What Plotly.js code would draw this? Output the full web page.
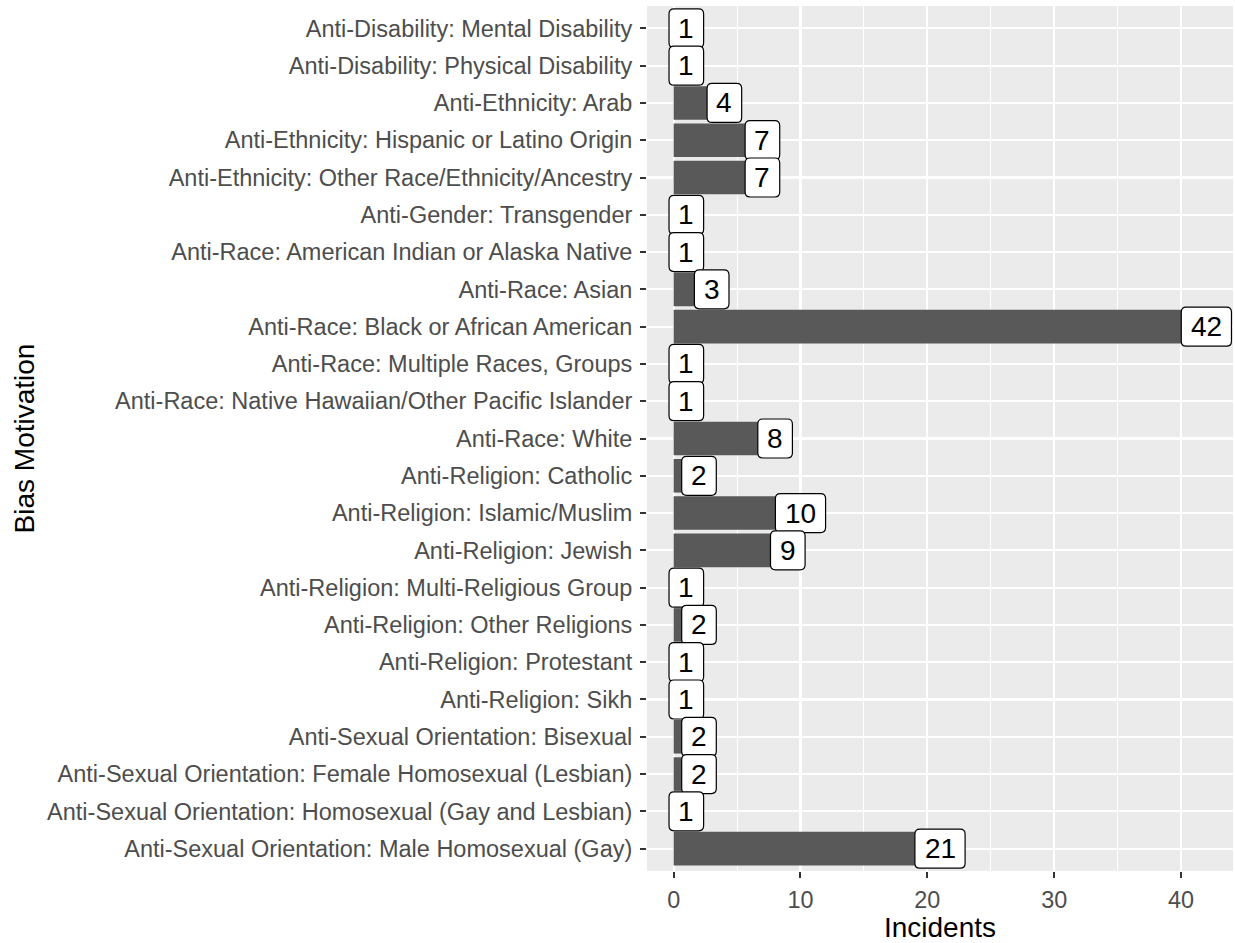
<!DOCTYPE html>
<html>
<head>
<meta charset="utf-8">
<script src="https://cdn.plot.ly/plotly-3.0.1.min.js"></script>
<style>html,body{margin:0;padding:0;background:#fff}#chart{width:1235px;height:943px}</style>
</head>
<body>
<div id="chart"></div>
<script>
const categories = [
  "Anti-Disability: Mental Disability",
  "Anti-Disability: Physical Disability",
  "Anti-Ethnicity: Arab",
  "Anti-Ethnicity: Hispanic or Latino Origin",
  "Anti-Ethnicity: Other Race/Ethnicity/Ancestry",
  "Anti-Gender: Transgender",
  "Anti-Race: American Indian or Alaska Native",
  "Anti-Race: Asian",
  "Anti-Race: Black or African American",
  "Anti-Race: Multiple Races, Groups",
  "Anti-Race: Native Hawaiian/Other Pacific Islander",
  "Anti-Race: White",
  "Anti-Religion: Catholic",
  "Anti-Religion: Islamic/Muslim",
  "Anti-Religion: Jewish",
  "Anti-Religion: Multi-Religious Group",
  "Anti-Religion: Other Religions",
  "Anti-Religion: Protestant",
  "Anti-Religion: Sikh",
  "Anti-Sexual Orientation: Bisexual",
  "Anti-Sexual Orientation: Female Homosexual (Lesbian)",
  "Anti-Sexual Orientation: Homosexual (Gay and Lesbian)",
  "Anti-Sexual Orientation: Male Homosexual (Gay)"
];
const incidents = [1,1,4,7,7,1,1,3,42,1,1,8,2,10,9,1,2,1,1,2,2,1,21];
const xTickValues = [0,10,20,30,40];

const FONT = "Liberation Sans, Arial, Helvetica, sans-serif";

function roundedRect(hw, hh, r) {
  return `M ${-hw+r},${-hh} L ${hw-r},${-hh} Q ${hw},${-hh} ${hw},${-hh+r} ` +
         `L ${hw},${hh-r} Q ${hw},${hh} ${hw-r},${hh} L ${-hw+r},${hh} ` +
         `Q ${-hw},${hh} ${-hw},${hh-r} L ${-hw},${-hh+r} Q ${-hw},${-hh} ${-hw+r},${-hh} Z`;
}

const shapes = [];
const annotations = [];
categories.forEach((c, i) => {
  const v = incidents[i];
  const digits = String(v).length;
  const hw = (digits * 15.6 + 19) / 2;
  shapes.push({
    type: 'path', xref: 'x', yref: 'y',
    xsizemode: 'pixel', ysizemode: 'pixel',
    xanchor: v, yanchor: i,
    path: roundedRect(hw, 19.5, 5),
    fillcolor: '#ffffff',
    line: {color: '#000000', width: 1.2},
    layer: 'above'
  });
  annotations.push({
    x: v, y: i, xref: 'x', yref: 'y',
    text: String(v), showarrow: false,
    font: {family: FONT, size: 28, color: '#000000'},
    xanchor: 'center', yanchor: 'middle'
  });
});

const trace = {
  type: 'bar', orientation: 'h',
  x: incidents, y: categories,
  marker: {color: '#595959', line: {width: 0}},
  width: 0.9,
  hoverinfo: 'x+y'
};

const layout = {
  width: 1235, height: 943,
  margin: {l: 647, r: 2, t: 6, b: 72.3, pad: 0},
  paper_bgcolor: '#ffffff',
  plot_bgcolor: '#EBEBEB',
  showlegend: false,
  font: {family: FONT},
  xaxis: {
    range: [-2.1, 44.1],
    tickvals: xTickValues,
    ticktext: xTickValues.map(String),
    ticks: 'outside', ticklen: 6, tickwidth: 2, tickcolor: '#333333',
    tickfont: {family: FONT, size: 23.4, color: '#4D4D4D'},
    ticklabelstandoff: 2,
    showgrid: true, gridcolor: '#ffffff', gridwidth: 2.2,
    minor: {dtick: 5, tick0: 0, showgrid: true, gridcolor: '#ffffff', gridwidth: 1.1, ticks: ''},
    zeroline: false, showline: false,
    title: {text: 'Incidents', font: {family: FONT, size: 28, color: '#000000'}, standoff: 6},
    automargin: false
  },
  yaxis: {
    type: 'category',
    categoryorder: 'array', categoryarray: categories,
    range: [categories.length - 1 + 0.6, -0.6],
    ticks: 'outside', ticklen: 6, tickwidth: 2, tickcolor: '#333333',
    tickfont: {family: FONT, size: 23.5, color: '#4D4D4D'},
    ticklabelstandoff: 3,
    showgrid: true, gridcolor: '#ffffff', gridwidth: 2.2,
    zeroline: false, showline: false,
    title: {text: 'Bias Motivation', font: {family: FONT, size: 28, color: '#000000'}, standoff: 4},
    automargin: false
  },
  shapes: shapes,
  annotations: annotations
};

Plotly.newPlot('chart', [trace], layout, {displayModeBar: false, staticPlot: true});
</script>
</body>
</html>
